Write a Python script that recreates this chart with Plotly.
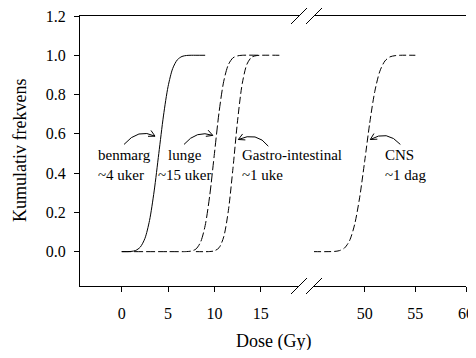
import math
import plotly.graph_objects as go

# ---- data ----
benmarg_x = [0, 1, 1.5, 2, 2.5, 3, 3.5, 4, 4.5, 5, 5.5, 6, 6.5, 7, 7.5, 8, 9]
benmarg_y = [0, 0.001, 0.006, 0.023, 0.067, 0.159, 0.309, 0.50, 0.691, 0.841,
             0.933, 0.977, 0.994, 0.999, 1.0, 1.0, 1.0]

lunge_x = [0, 5, 7, 7.5, 8, 8.5, 9, 9.5, 10, 10.5, 11, 11.5, 12, 12.5, 13, 15]
lunge_y = [0, 0, 0.0004, 0.003, 0.013, 0.048, 0.133, 0.289, 0.5, 0.711,
           0.867, 0.952, 0.987, 0.997, 1.0, 1.0]

gastro_x = [8, 9.5, 10, 10.5, 11, 11.5, 12, 12.5, 13, 13.5, 14, 14.5, 15, 17]
gastro_y = [0, 0.0005, 0.004, 0.020, 0.075, 0.208, 0.425, 0.669, 0.856,
            0.954, 0.990, 0.998, 1.0, 1.0]

cns_x = [45, 47, 47.5, 48, 48.5, 49, 49.5, 50, 50.5, 51, 51.5, 52, 52.5, 53, 53.5, 55]
cns_y = [0, 0.001, 0.005, 0.018, 0.055, 0.136, 0.274, 0.460, 0.655, 0.816,
         0.919, 0.971, 0.992, 0.998, 1.0, 1.0]

x_ticks_left = [0, 5, 10, 15]
x_ticks_right = [50, 55, 60]
y_ticks = [0.0, 0.2, 0.4, 0.6, 0.8, 1.0, 1.2]

labels = ["benmarg<br>~4 uker", "lunge<br>~15 uker", "Gastro-intestinal<br>~1 uke", "CNS<br>~1 dag"]

# ---- layout geometry (page has an 8px body margin) ----
OFF = 8
W, H = 476 - OFF, 358 - 2 * OFF
ML, MR, MT = 80 - OFF, 10, 16 - OFF
MB = H - (286 - OFF)
PW, PH = W - ML - MR, H - MT - MB
DOM1 = [0, (299 - OFF - ML) / PW]
DOM2 = [(314 - OFF - ML) / PW, 1]
XR1 = [-4.5, 19.12]
XR2 = [45, 60]
YR = [-0.175, 1.2]

FONT = "Liberation Serif, Times New Roman, Times, serif"
INK = "black"

fig = go.Figure()
line = dict(color=INK, width=1)
fig.add_trace(go.Scatter(x=benmarg_x, y=benmarg_y, mode="lines",
                         line=dict(**line, shape="spline", smoothing=0.8), xaxis="x", yaxis="y"))
fig.add_trace(go.Scatter(x=lunge_x, y=lunge_y, mode="lines",
                         line=dict(**line, dash="9px,3px", shape="spline", smoothing=0.8), xaxis="x", yaxis="y"))
fig.add_trace(go.Scatter(x=gastro_x, y=gastro_y, mode="lines",
                         line=dict(**line, dash="7px,3px", shape="spline", smoothing=0.8), xaxis="x", yaxis="y"))
fig.add_trace(go.Scatter(x=cns_x, y=cns_y, mode="lines",
                         line=dict(**line, dash="7px,3px", shape="spline", smoothing=0.8), xaxis="x2", yaxis="y"))

axis_common = dict(showgrid=False, zeroline=False, showline=True, linecolor=INK, linewidth=1,
                   ticks="outside", ticklen=5, tickcolor=INK, tickwidth=1, automargin=False,
                   ticklabeloverflow="allow",
                   tickfont=dict(family=FONT, size=16, color=INK))

fig.update_layout(
    width=W, height=H, margin=dict(l=ML, r=MR, t=MT, b=MB, autoexpand=False),
    paper_bgcolor="white", plot_bgcolor="white", showlegend=False,
    font=dict(family=FONT, color=INK),
    xaxis=dict(**axis_common, domain=DOM1, range=XR1, tickvals=x_ticks_left,
               mirror=True, anchor="y", ticklabelstandoff=8),
    xaxis2=dict(**axis_common, domain=DOM2, range=XR2, tickvals=x_ticks_right,
                mirror=True, anchor="y", ticklabelstandoff=8),
    yaxis=dict(**axis_common, range=YR, tickvals=y_ticks, tickformat=".1f",
               anchor="x", ticklabelstandoff=5),
    yaxis2=dict(showgrid=False, zeroline=False, showline=True, linecolor=INK, linewidth=1,
                range=YR, overlaying="y", anchor="x2", side="right", automargin=False,
                showticklabels=False, ticks=""),
)

# ---- helpers for pixel <-> data (figure pixels) ----
def to_px(x, y, xr, dom):
    x0 = ML + dom[0] * PW
    x1 = ML + dom[1] * PW
    px = x0 + (x - xr[0]) / (xr[1] - xr[0]) * (x1 - x0)
    py = MT + PH - (y - YR[0]) / (YR[1] - YR[0]) * PH
    return px, py

def to_data(px, py, xr, dom):
    x0 = ML + dom[0] * PW
    x1 = ML + dom[1] * PW
    x = xr[0] + (px - x0) / (x1 - x0) * (xr[1] - xr[0])
    y = YR[0] + (MT + PH - py) / PH * (YR[1] - YR[0])
    return x, y

# ---- labels ----
label_pos = [
    dict(x=-2.77, y=0.443, xref="x", xanchor="left", align="left"),
    dict(x=6.83, y=0.443, xref="x", xanchor="center", align="center"),
    dict(x=12.76, y=0.443, xref="x", xanchor="left", align="left"),
    dict(x=51.85, y=0.443, xref="x2", xanchor="left", align="left"),
]
for txt, p in zip(labels, label_pos):
    fig.add_annotation(text=txt, x=p["x"], y=p["y"], xref=p["xref"], yref="y",
                       xanchor=p["xanchor"], yanchor="middle", align=p["align"],
                       showarrow=False, font=dict(family=FONT, size=15, color=INK))

# ---- curved arrows (start, control, tip) ----
arrows = [
    ("x", (0.25, 0.546), (1.79, 0.631), (3.59, 0.588)),
    ("x", (6.72, 0.546), (8.09, 0.622), (9.82, 0.592)),
    ("x", (15.81, 0.537), (14.56, 0.614), (12.58, 0.571)),
    ("x2", (53.52, 0.546), (52.21, 0.622), (50.56, 0.571)),
]
for xref, s, c, t in arrows:
    fig.add_shape(type="path", xref=xref, yref="y",
                  path=f"M {s[0]},{s[1]} Q {c[0]},{c[1]} {t[0]},{t[1]}",
                  line=dict(color=INK, width=1))
    xr, dom = (XR1, DOM1) if xref == "x" else (XR2, DOM2)
    cpx, cpy = to_px(c[0], c[1], xr, dom)
    tpx, tpy = to_px(t[0], t[1], xr, dom)
    ang = math.atan2(tpy - cpy, tpx - cpx)
    pts = []
    for da in (math.radians(28), -math.radians(28)):
        bx = tpx - 7 * math.cos(ang + da)
        by = tpy - 7 * math.sin(ang + da)
        pts.append(to_data(bx, by, xr, dom))
    fig.add_shape(type="path", xref=xref, yref="y",
                  path=f"M {pts[0][0]},{pts[0][1]} L {t[0]},{t[1]} L {pts[1][0]},{pts[1][1]}",
                  line=dict(color=INK, width=1))

# ---- axis-break marks ----
dx, dy = 8 / PW, 8 / PH
for xc in (DOM1[1], DOM2[0]):
    for yc in (0, 1):
        fig.add_shape(type="line", xref="paper", yref="paper",
                      x0=xc - dx, y0=yc - dy, x1=xc + dx, y1=yc + dy,
                      line=dict(color=INK, width=1))

# ---- axis titles (positions given in page pixels) ----
fig.add_annotation(text="Dose (Gy)", xref="paper", yref="paper",
                   x=(273 - OFF - ML) / PW, y=(MT + PH - (341 - OFF)) / PH,
                   xanchor="center", yanchor="middle",
                   showarrow=False, font=dict(family=FONT, size=18, color=INK))
fig.add_annotation(text="Kumulativ frekvens", xref="paper", yref="paper",
                   x=(20 - OFF - ML) / PW, y=(MT + PH - (151 - OFF)) / PH,
                   xanchor="center", yanchor="middle",
                   textangle=-90, showarrow=False, font=dict(family=FONT, size=18, color=INK))

fig.write_html("out.html")
